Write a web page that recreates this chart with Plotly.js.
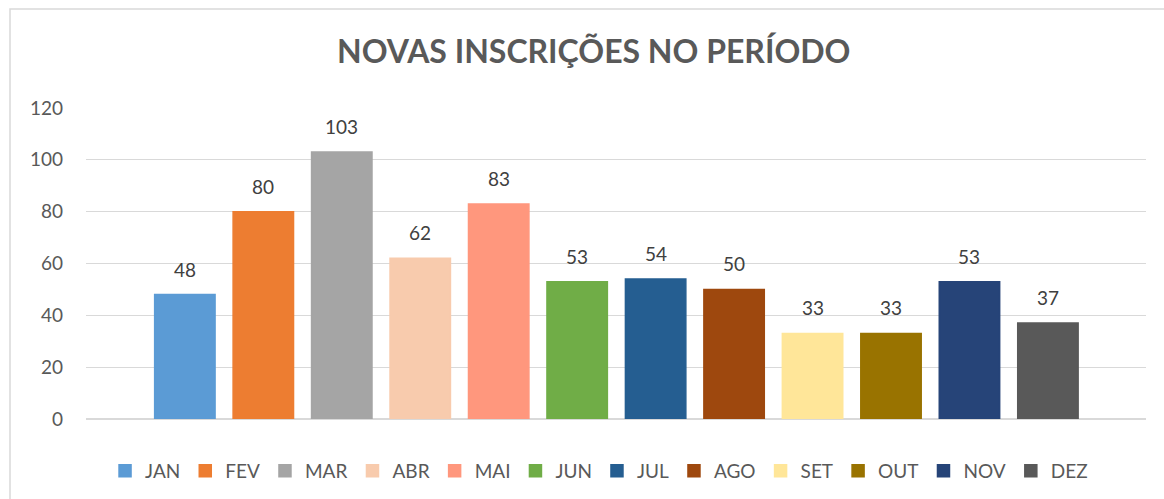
<!DOCTYPE html>
<html>
<head>
<meta charset="utf-8">
<script src="https://cdn.plot.ly/plotly-3.0.1.min.js"></script>
<style>
html,body{margin:0;padding:0;background:#fff;}
#chart{width:1164px;height:499px;}
</style>
</head>
<body>
<div id="chart"></div>
<script>
const months = ["JAN","FEV","MAR","ABR","MAI","JUN","JUL","AGO","SET","OUT","NOV","DEZ"];
const values = [48, 80, 103, 62, 83, 53, 54, 50, 33, 33, 53, 37];
const colors = ["#5B9BD5","#ED7D31","#A5A5A5","#F8CBAD","#FF977D","#70AD47","#255E91","#9E480E","#FFE699","#997300","#264478","#595959"];
const yTicks = [0, 20, 40, 60, 80, 100, 120];
const titleText = "NOVAS INSCRIÇÕES NO PERÍODO";

const FONT = "Lato, 'Open Sans', sans-serif";

const traces = months.map((m, i) => ({
  type: "bar",
  name: m,
  x: [m],
  y: [values[i]],
  width: 0.77,
  marker: {color: colors[i], line: {width: 1.5, color: colors[i]}},
  hoverinfo: "x+y"
}));

const annotations = months.map((m, i) => ({
  x: m, y: values[i], xref: "x", yref: "y",
  text: String(values[i]),
  showarrow: false,
  yanchor: "bottom",
  yshift: 12,
  font: {family: FONT, size: 19, color: "#404040"}
}));

const layout = {
  width: 1164, height: 499,
  margin: {l: 86, r: 18, t: 108, b: 80, pad: 0, autoexpand: false},
  paper_bgcolor: "#fff",
  plot_bgcolor: "#fff",
  barmode: "overlay",
  showlegend: true,
  title: {
    text: "<b>" + titleText + "</b>",
    font: {family: FONT, size: 32, color: "#595959"},
    x: 0.479, xref: "paper", xanchor: "center",
    y: 1 - 52/499, yref: "container", yanchor: "middle"
  },
  xaxis: {
    type: "category",
    categoryorder: "array",
    categoryarray: months,
    range: [-1.26, 12.25],
    showticklabels: false,
    showgrid: false,
    zeroline: false,
    showline: false,
    ticks: "",
    fixedrange: true,
    automargin: false
  },
  yaxis: {
    range: [0, 120],
    tickvals: yTicks,
    ticktext: yTicks.map(String),
    showgrid: true,
    gridcolor: "#D9D9D9",
    gridwidth: 1,
    zeroline: true,
    zerolinecolor: "#D9D9D9",
    zerolinewidth: 1.5,
    showline: false,
    ticks: "",
    ticklabelstandoff: 22,
    tickfont: {family: FONT, size: 19, color: "#595959"},
    fixedrange: true,
    automargin: false
  },
  legend: {
    orientation: "h",
    x: 0.484, xanchor: "center",
    y: -0.167, yanchor: "middle",
    font: {family: FONT, size: 19, color: "#595959"},
    itemwidth: 30,
    traceorder: "normal",
    bgcolor: "rgba(0,0,0,0)"
  },
  annotations: annotations,
  shapes: [{
    type: "rect", xref: "paper", yref: "paper",
    x0: (10 - 86) / 1060, x1: 1.1,
    y0: -0.5, y1: (419 - 8.5) / 311.4,
    line: {color: "#D9D9D9", width: 1.5},
    fillcolor: "rgba(0,0,0,0)",
    layer: "below"
  }]
};

Plotly.newPlot("chart", traces, layout, {displayModeBar: false, staticPlot: true});
</script>
</body>
</html>
